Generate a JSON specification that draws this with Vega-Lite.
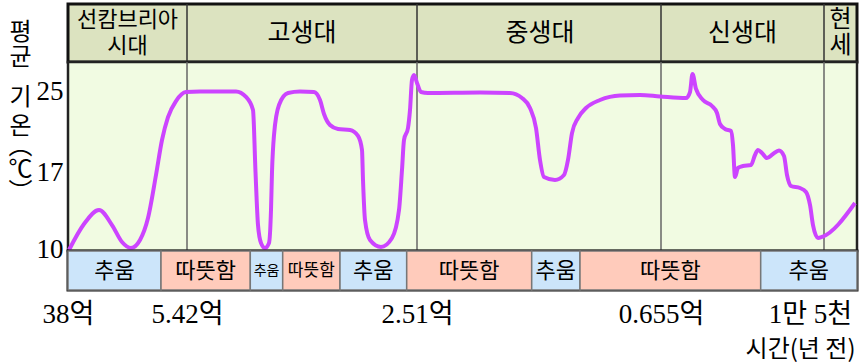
{
  "$schema": "https://vega.github.io/schema/vega-lite/v6.json",
  "padding": {"left": 6, "top": 1, "right": 0, "bottom": 0},
  "bounds": "flush",
  "spacing": 0,
  "config": {"view": {"stroke": null}, "axis": {"grid": false}, "text": {"font": "Noto Sans CJK KR", "color": "#000000"}},
  "datasets": {
    "eras": [
      {"name": "선캄브리아\n시대", "x": 59.5},
      {"name": "고생대", "x": 234},
      {"name": "중생대", "x": 472},
      {"name": "신생대", "x": 674.5},
      {"name": "현\n세", "x": 772.5}
    ],
    "dividers": [{"x": 119}, {"x": 349}, {"x": 593}, {"x": 756}],
    "bands": [
      {"kind": "추움", "a": 0, "b": 93, "mid": 46.5},
      {"kind": "따뜻함", "a": 93, "b": 182.3, "mid": 137.7},
      {"kind": "추움", "a": 182.3, "b": 214.7, "mid": 198.5},
      {"kind": "따뜻함", "a": 214.7, "b": 272, "mid": 243.3},
      {"kind": "추움", "a": 272, "b": 338.7, "mid": 305.3},
      {"kind": "따뜻함", "a": 338.7, "b": 463.7, "mid": 401.2},
      {"kind": "추움", "a": 463.7, "b": 512, "mid": 487.8},
      {"kind": "따뜻함", "a": 512, "b": 692.7, "mid": 602.3},
      {"kind": "추움", "a": 692.7, "b": 789, "mid": 740.8}
    ],
    "curve": [
      {"x": 1, "t": 10.0}, {"x": 16, "t": 12.33}, {"x": 31, "t": 13.59}, {"x": 44, "t": 12.24},
      {"x": 54, "t": 10.72}, {"x": 63, "t": 10.18}, {"x": 72, "t": 10.9}, {"x": 80, "t": 12.87},
      {"x": 88, "t": 16.73}, {"x": 94, "t": 20.16}, {"x": 100, "t": 22.43}, {"x": 108, "t": 24.01},
      {"x": 118, "t": 24.9}, {"x": 132, "t": 24.95}, {"x": 168, "t": 24.95}, {"x": 178, "t": 24.41},
      {"x": 185, "t": 23.12}, {"x": 187.5, "t": 17.0}, {"x": 190, "t": 12.24}, {"x": 193, "t": 10.63},
      {"x": 197, "t": 10.18}, {"x": 201, "t": 10.63}, {"x": 203, "t": 13.59}, {"x": 204, "t": 17.0},
      {"x": 206, "t": 20.65}, {"x": 211, "t": 23.62}, {"x": 220, "t": 24.8}, {"x": 232, "t": 24.95},
      {"x": 246, "t": 24.9}, {"x": 252, "t": 24.11}, {"x": 256, "t": 22.73}, {"x": 262, "t": 21.64},
      {"x": 270, "t": 21.25}, {"x": 282, "t": 21.15}, {"x": 290, "t": 20.56}, {"x": 294, "t": 19.17},
      {"x": 295, "t": 16.28}, {"x": 297, "t": 12.69}, {"x": 302, "t": 10.9}, {"x": 313, "t": 10.27},
      {"x": 324, "t": 11.08}, {"x": 331, "t": 13.59}, {"x": 334, "t": 17.2}, {"x": 336, "t": 20.16},
      {"x": 340, "t": 21.35}, {"x": 342, "t": 23.12}, {"x": 344, "t": 26.09}, {"x": 346, "t": 26.58},
      {"x": 349, "t": 25.79}, {"x": 353, "t": 24.9}, {"x": 360, "t": 24.8}, {"x": 412, "t": 24.85},
      {"x": 442, "t": 24.8}, {"x": 454, "t": 24.31}, {"x": 462, "t": 23.32}, {"x": 468, "t": 21.35},
      {"x": 472, "t": 18.19}, {"x": 476, "t": 16.55}, {"x": 487, "t": 16.28}, {"x": 496, "t": 16.73},
      {"x": 500, "t": 18.19}, {"x": 504, "t": 20.85}, {"x": 510, "t": 22.33}, {"x": 518, "t": 23.32},
      {"x": 532, "t": 24.11}, {"x": 552, "t": 24.56}, {"x": 572, "t": 24.6}, {"x": 592, "t": 24.46},
      {"x": 618, "t": 24.31}, {"x": 622, "t": 24.9}, {"x": 624.5, "t": 26.68}, {"x": 628, "t": 25.2},
      {"x": 635, "t": 24.11}, {"x": 644, "t": 23.52}, {"x": 649, "t": 22.83}, {"x": 652, "t": 21.74},
      {"x": 657, "t": 21.25}, {"x": 663, "t": 21.05}, {"x": 665, "t": 19.67}, {"x": 667, "t": 16.55},
      {"x": 670, "t": 17.4}, {"x": 675, "t": 17.59}, {"x": 683, "t": 17.69}, {"x": 687, "t": 18.68},
      {"x": 690, "t": 19.17}, {"x": 694, "t": 18.88}, {"x": 699, "t": 18.38}, {"x": 705, "t": 18.78},
      {"x": 711, "t": 19.12}, {"x": 716, "t": 18.58}, {"x": 719, "t": 16.73}, {"x": 723, "t": 15.74},
      {"x": 732, "t": 15.56}, {"x": 738, "t": 15.21}, {"x": 742, "t": 14.04}, {"x": 745, "t": 12.24},
      {"x": 750, "t": 11.08}, {"x": 754, "t": 11.17}, {"x": 787, "t": 14.22}
    ]
  },
  "vconcat": [
    {
      "width": 789,
      "height": 58,
      "view": {"fill": "#DCE3C0", "stroke": "#111111", "strokeWidth": 3},
      "layer": [
        {
          "data": {"name": "dividers"},
          "mark": {"type": "rule", "color": "#333333", "strokeWidth": 1.5},
          "encoding": {
            "x": {
              "field": "x", "type": "quantitative",
              "scale": {"domain": [0, 789], "nice": false, "zero": false},
              "axis": {"orient": "bottom", "labels": false, "ticks": false, "domain": false,
                "title": ["︵", "℃", "︶"], "titleAngle": 0, "titleX": -48, "titleY": 84,
                "titleAlign": "center", "titleBaseline": "middle", "titleFont": "Noto Sans CJK KR",
                "titleFontSize": 24, "titleFontWeight": "normal", "titleLineHeight": 23, "titleColor": "#000000"}
            }
          }
        },
        {
          "data": {"name": "eras"},
          "transform": [{"filter": {"field": "name", "oneOf": ["고생대", "중생대", "신생대"]}}],
          "mark": {"type": "text", "fontSize": 25, "baseline": "middle"},
          "encoding": {"x": {"field": "x", "type": "quantitative"}, "text": {"field": "name"}}
        },
        {
          "data": {"name": "eras"},
          "transform": [{"filter": {"field": "name", "oneOf": ["선캄브리아\n시대"]}}],
          "mark": {"type": "text", "fontSize": 22, "baseline": "middle", "lineBreak": "\n", "lineHeight": 26, "dy": -13},
          "encoding": {"x": {"field": "x", "type": "quantitative"}, "text": {"field": "name"}}
        },
        {
          "data": {"name": "eras"},
          "transform": [{"filter": {"field": "name", "oneOf": ["현\n세"]}}],
          "mark": {"type": "text", "fontSize": 24, "baseline": "middle", "lineBreak": "\n", "lineHeight": 26, "dy": -13},
          "encoding": {"x": {"field": "x", "type": "quantitative"}, "text": {"field": "name"}}
        }
      ]
    },
    {
      "width": 789,
      "height": 189,
      "view": {"fill": "#F1FBE2", "stroke": "#222222", "strokeWidth": 2.5},
      "layer": [
        {
          "data": {"name": "dividers"},
          "mark": {"type": "rule", "color": "#666666", "strokeWidth": 1.5},
          "encoding": {
            "x": {
              "field": "x", "type": "quantitative",
              "scale": {"domain": [0, 789], "nice": false, "zero": false},
              "axis": {"orient": "top", "labels": false, "ticks": false, "domain": false,
                "title": ["평", "균"], "titleAngle": 0, "titleX": -48, "titleY": -30,
                "titleAlign": "center", "titleBaseline": "middle", "titleFont": "Noto Sans CJK KR",
                "titleFontSize": 24, "titleFontWeight": "normal", "titleLineHeight": 25, "titleColor": "#000000"}
            }
          }
        },
        {
          "mark": {"type": "rule", "color": "#000000", "strokeWidth": 2, "strokeDash": [2, 4]},
          "encoding": {"y": {"datum": 25}}
        },
        {
          "mark": {"type": "rule", "color": "#000000", "strokeWidth": 2, "strokeDash": [2, 4]},
          "encoding": {"y": {"datum": 17}}
        },
        {
          "data": {"name": "curve"},
          "mark": {"type": "line", "interpolate": "monotone", "color": "#CC44FF", "strokeWidth": 4},
          "encoding": {
            "x": {"field": "x", "type": "quantitative"},
            "y": {
              "field": "t", "type": "quantitative",
              "scale": {"domain": [9.91, 17, 25, 27.86], "range": [189, 110, 29, 0], "nice": false, "zero": false},
              "axis": {"values": [10, 17, 25], "labelFont": "Liberation Serif", "labelFontSize": 27,
                "labelColor": "#000000", "labelPadding": 5, "ticks": false, "domain": false,
                "labelBound": false, "labelFlush": false, "labelOverlap": false,
                "title": ["기", "온"], "titleAngle": 0, "titleX": -48, "titleY": 35,
                "titleAlign": "center", "titleBaseline": "middle", "titleFont": "Noto Sans CJK KR",
                "titleFontSize": 24, "titleFontWeight": "normal", "titleLineHeight": 29, "titleColor": "#000000"}
            }
          }
        }
      ]
    },
    {
      "width": 789,
      "height": 39,
      "view": {"stroke": "#111111", "strokeWidth": 3},
      "data": {"name": "bands"},
      "layer": [
        {
          "mark": {"type": "rect", "stroke": "#777777", "strokeWidth": 1.5},
          "encoding": {
            "x": {
              "field": "a", "type": "quantitative",
              "scale": {"domain": [0, 789], "nice": false, "zero": false},
              "axis": {"orient": "bottom", "values": [0, 119, 349, 593, 742],
                "labelExpr": "datum.value == 0 ? '38억' : datum.value == 119 ? '5.42억' : datum.value == 349 ? '2.51억' : datum.value == 593 ? '0.655억' : '1만 5천'",
                "labelFont": "Liberation Serif, Noto Sans CJK KR", "labelFontSize": 27, "labelColor": "#000000",
                "labelPadding": 11, "ticks": false, "domain": false, "labelOverlap": false, "labelFlush": false, "labelBound": false,
                "title": "시간(년 전)", "titleFont": "Noto Sans CJK KR", "titleFontSize": 24, "titleFontWeight": "normal",
                "titleAlign": "right", "titleAnchor": "end", "titleX": 787, "titleY": 59, "titleBaseline": "middle", "titleColor": "#000000"}
            },
            "x2": {"field": "b"},
            "color": {"field": "kind", "type": "nominal", "scale": {"domain": ["추움", "따뜻함"], "range": ["#CCE5FA", "#FFCBBB"]}, "legend": null}
          }
        },
        {
          "transform": [{"filter": "datum.kind == '추움' && datum.b - datum.a < 40"}],
          "mark": {"type": "text", "fontSize": 14, "baseline": "middle"},
          "encoding": {"x": {"field": "mid", "type": "quantitative"}, "text": {"field": "kind"}}
        },
        {
          "transform": [{"filter": "datum.kind == '따뜻함' && datum.b - datum.a < 60"}],
          "mark": {"type": "text", "fontSize": 17, "baseline": "middle"},
          "encoding": {"x": {"field": "mid", "type": "quantitative"}, "text": {"field": "kind"}}
        },
        {
          "transform": [{"filter": "!((datum.kind == '추움' && datum.b - datum.a < 40) || (datum.kind == '따뜻함' && datum.b - datum.a < 60))"}],
          "mark": {"type": "text", "fontSize": 22, "baseline": "middle"},
          "encoding": {"x": {"field": "mid", "type": "quantitative"}, "text": {"field": "kind"}}
        }
      ]
    }
  ]
}
